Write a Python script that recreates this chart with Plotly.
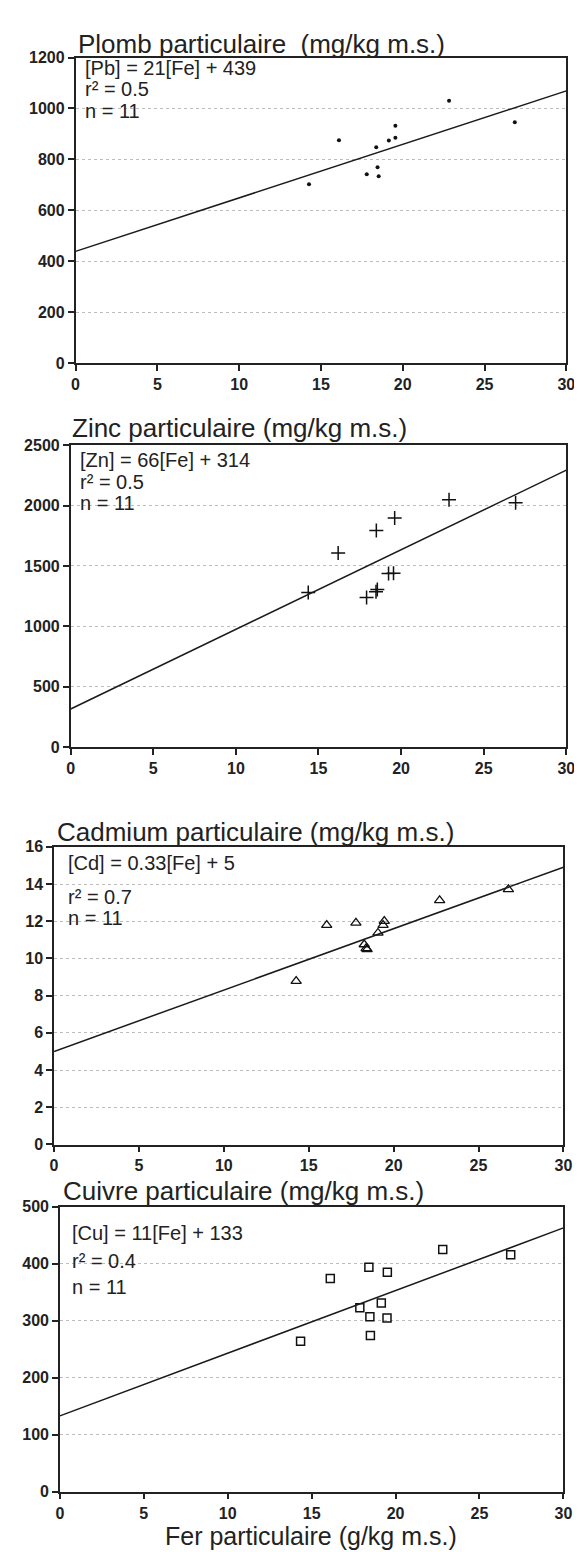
import plotly.graph_objects as go

W, H = 582, 1552

# Fer particulaire (g/kg m.s.) read per panel
fe_pb = [14.27, 16.10, 17.80, 18.38, 18.46, 18.53, 19.15, 19.55, 19.55, 22.83, 26.85]
pb = [702, 875, 742, 848, 769, 734, 874, 932, 885, 1030, 946]

fe_zn = [14.38, 16.19, 17.91, 18.50, 18.48, 18.56, 19.24, 19.54, 19.61, 22.90, 26.93]
zn = [1280, 1608, 1238, 1794, 1285, 1304, 1437, 1439, 1897, 2048, 2024]

fe_cd = [14.26, 16.06, 17.78, 18.27, 18.38, 18.44, 19.08, 19.38, 19.45, 22.71, 26.76]
cd = [8.78, 11.79, 11.91, 10.75, 10.54, 10.49, 11.37, 11.79, 12.01, 13.12, 13.71]

fe_cu = [14.34, 16.11, 17.87, 18.41, 18.47, 18.50, 19.15, 19.51, 19.49, 22.81, 26.86]
cu = [264, 374, 323, 394, 307, 274, 331, 385, 305, 425, 416]

# regression lines as printed on the chart
slopes = [21, 66, 0.33, 11]
intercepts = [439, 314, 5, 133]
fe_range = [0, 30]

titles = [
    "Plomb particulaire  (mg/kg m.s.)",
    "Zinc particulaire (mg/kg m.s.)",
    "Cadmium particulaire (mg/kg m.s.)",
    "Cuivre particulaire (mg/kg m.s.)",
]
equations = [
    ["[Pb] = 21[Fe] + 439", "r² = 0.5", "n = 11"],
    ["[Zn] = 66[Fe] + 314", "r² = 0.5", "n = 11"],
    ["[Cd] = 0.33[Fe] + 5", "r² = 0.7", "n = 11"],
    ["[Cu] = 11[Fe] + 133", "r² = 0.4", "n = 11"],
]
y_ranges = [[0, 1200], [0, 2500], [0, 16], [0, 500]]
y_dticks = [200, 500, 2, 100]
x_ticks = [0, 5, 10, 15, 20, 25, 30]
x_title = "Fer particulaire (g/kg m.s.)"

# layout in pixels: (left, right, top, bottom)
boxes = [(65, 567, 42, 351), (60, 567, 434, 739), (43, 564, 840, 1141), (49, 564, 1204, 1492)]
title_pos = [(65, 28), (59, 417), (44, 825), (50, 1188)]
eq_pos = [(73, [53, 74, 96]), (67, [449, 471, 492]), (55, [856, 891, 912]), (59, [1230, 1259, 1285])]

markers = [
    dict(symbol="circle", size=4, color="#111"),
    dict(symbol="cross-thin-open", size=10, color="#111", line=dict(width=1.5, color="#111")),
    dict(symbol="triangle-up-open", size=9, color="#111", line=dict(width=1.3, color="#111")),
    dict(symbol="square-open", size=8, color="#111", line=dict(width=1.5, color="#111")),
]
series = [(fe_pb, pb), (fe_zn, zn), (fe_cd, cd), (fe_cu, cu)]

FONT = "Liberation Sans, Arial, sans-serif"


def px_x(v):
    return v / W


def px_y(v):
    return 1 - v / H


fig = go.Figure()
annotations = []
layout = {}

for i in range(4):
    n = i + 1
    xa = "x" if n == 1 else f"x{n}"
    ya = "y" if n == 1 else f"y{n}"
    xs, ys = series[i]
    fig.add_trace(go.Scatter(x=xs, y=ys, mode="markers", marker=markers[i],
                             xaxis=xa, yaxis=ya, showlegend=False))
    line_y = [slopes[i] * v + intercepts[i] for v in fe_range]
    fig.add_trace(go.Scatter(x=fe_range, y=line_y, mode="lines",
                             line=dict(color="#1a1a1a", width=1.5),
                             xaxis=xa, yaxis=ya, showlegend=False))

    l, r, t, b = boxes[i]
    layout["xaxis" if n == 1 else f"xaxis{n}"] = dict(
        domain=[px_x(l), px_x(r)], range=fe_range, anchor=ya,
        tickvals=x_ticks, ticks="outside", ticklen=6, tickwidth=1.5, tickcolor="#222",
        showline=True, linecolor="#222", linewidth=1.5, mirror=True,
        showgrid=False, zeroline=False,
        tickfont=dict(family=FONT, size=16, color="#222", weight="bold"),
    )
    layout["yaxis" if n == 1 else f"yaxis{n}"] = dict(
        domain=[px_y(b), px_y(t)], range=y_ranges[i], anchor=xa,
        dtick=y_dticks[i], ticks="outside", ticklen=6, tickwidth=1.5, tickcolor="#222",
        showline=True, linecolor="#222", linewidth=1.5, mirror=True,
        showgrid=True, gridcolor="#bdbdbd", griddash="dot", gridwidth=1, zeroline=False,
        tickfont=dict(family=FONT, size=16, color="#222", weight="bold"),
    )

    tx, ty = title_pos[i]
    annotations.append(dict(text=titles[i], x=px_x(tx), y=px_y(ty), xref="paper", yref="paper",
                            xanchor="left", yanchor="middle", showarrow=False,
                            font=dict(family=FONT, size=26, color="#222")))
    ex, eys = eq_pos[i]
    for txt, ey in zip(equations[i], eys):
        annotations.append(dict(text=txt, x=px_x(ex), y=px_y(ey), xref="paper", yref="paper",
                                xanchor="left", yanchor="middle", showarrow=False,
                                font=dict(family=FONT, size=20, color="#222")))

annotations.append(dict(text=x_title, x=px_x(306), y=px_y(1537), xref="paper", yref="paper",
                        xanchor="center", yanchor="middle", showarrow=False,
                        font=dict(family=FONT, size=25, color="#222")))

fig.update_layout(
    width=W, height=H,
    margin=dict(l=0, r=0, t=0, b=0),
    paper_bgcolor="white", plot_bgcolor="white",
    annotations=annotations,
    **layout,
)

fig.write_html("out.html")
